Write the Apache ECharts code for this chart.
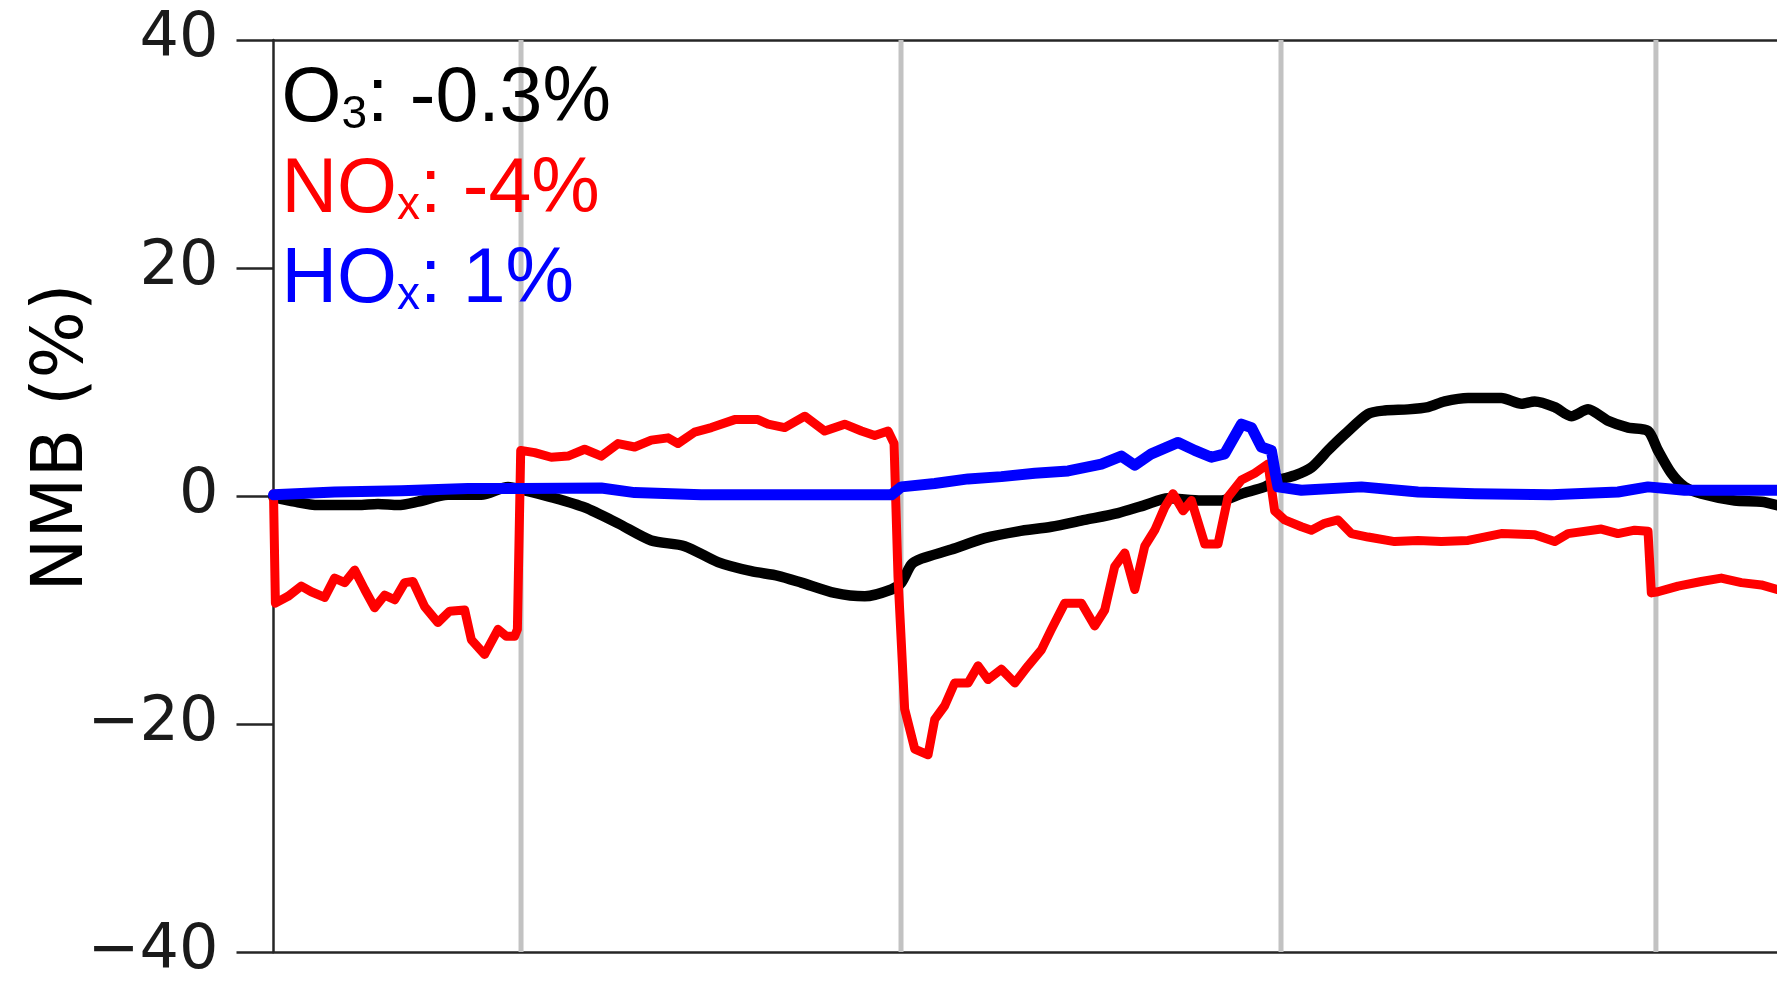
<!DOCTYPE html>
<html>
<head>
<meta charset="utf-8">
<script src="https://cdn.jsdelivr.net/npm/echarts@6/dist/echarts.min.js"></script>
<style>
  html, body { margin: 0; padding: 0; background: #ffffff; }
  #chart { width: 1777px; height: 983px; }
</style>
</head>
<body>
<div id="chart"></div>
<script>
// Elapsed time in hours along the x axis; NMB in percent along the y axis.
const xRange = [0, 95];
const yTicks = [-40, -20, 0, 20, 40];

// Starts of the sampling periods (grey verticals)
const periodBoundaries = [15.64, 39.65, 63.66, 87.35];

// Campaign-mean normalised mean bias per species
const speciesNames = ['O', 'NO', 'HO'];
const speciesSubs = ['3', 'x', 'x'];
const nmbSummary = ['-0.3', '-4', '1'];

// O3 bias time series [hour, NMB %]
const o3Bias = [
  [0, -0.1], [1.34, -0.5], [2.81, -0.8], [5.34, -0.8], [6.6, -0.7], [7.87, -0.8],
  [9.13, -0.5], [11.03, 0.1], [13.13, 0.1], [14.82, 0.8], [15.87, 0.5], [17.55, -0.1],
  [19.66, -1.0], [21.77, -2.4], [23.87, -3.9], [25.98, -4.4], [28.08, -5.8], [30.19, -6.6],
  [31.88, -7.0], [33.36, -7.6], [35.46, -8.5], [37.36, -8.8], [39.04, -8.2], [39.67, -7.6],
  [40.31, -6.0], [40.94, -5.5], [42.83, -4.7], [44.94, -3.7], [47.05, -3.1], [49.15, -2.7],
  [51.26, -2.1], [53.36, -1.5], [55.05, -0.8], [56.52, -0.2], [58.63, -0.4], [59.89, -0.4],
  [61.16, 0.2], [62.63, 0.8], [63.47, 1.4], [64.52, 1.8], [65.58, 2.5], [66.63, 4.0],
  [67.68, 5.4], [69.16, 7.2], [70.21, 7.5], [71.69, 7.6], [72.95, 7.8], [74.0, 8.3],
  [75.48, 8.6], [77.58, 8.6], [78.85, 8.1], [79.69, 8.3], [80.95, 7.8], [82.0, 7.0],
  [83.06, 7.6], [84.32, 6.6], [85.59, 6.0], [86.85, 5.7], [87.48, 4.0], [88.32, 2.0],
  [89.16, 0.8], [90.22, 0.2], [92.32, -0.4], [94.01, -0.5], [95, -0.8]
];

// NOx bias time series [hour, NMB %]
const noxBias = [
  [0, 0.2], [0.12, -9.4], [0.92, -8.8], [1.76, -7.9], [2.39, -8.4], [3.23, -8.9],
  [3.86, -7.2], [4.5, -7.6], [5.13, -6.5], [5.76, -8.2], [6.39, -9.8], [7.02, -8.7],
  [7.66, -9.1], [8.29, -7.6], [8.81, -7.5], [9.55, -9.7], [10.39, -11.1], [11.13, -10.1],
  [12.08, -10.0], [12.5, -12.6], [13.34, -13.9], [14.19, -11.7], [14.71, -12.3], [15.24, -12.3],
  [15.41, -11.7], [15.62, 4.0], [16.5, 3.8], [17.55, 3.4], [18.61, 3.5], [19.66, 4.1],
  [20.71, 3.5], [21.77, 4.6], [22.82, 4.3], [23.87, 4.9], [24.93, 5.1], [25.56, 4.6],
  [26.61, 5.6], [27.67, 6.0], [29.14, 6.7], [30.61, 6.7], [31.25, 6.3], [32.3, 6.0],
  [33.57, 7.0], [34.83, 5.7], [36.09, 6.3], [37.15, 5.7], [37.99, 5.3], [38.83, 5.7],
  [39.21, 4.6], [39.46, -7.1], [39.88, -18.7], [40.52, -22.2], [41.36, -22.7], [41.78, -19.6],
  [42.41, -18.4], [43.04, -16.4], [43.89, -16.4], [44.52, -14.9], [45.15, -16.1], [45.99, -15.2],
  [46.84, -16.4], [47.68, -14.9], [48.52, -13.5], [49.15, -11.7], [50.0, -9.4], [51.05, -9.4],
  [51.89, -11.4], [52.52, -10.0], [53.15, -6.2], [53.79, -5.0], [54.42, -8.2], [55.05, -4.4],
  [55.68, -3.0], [56.31, -1.0], [56.84, 0.2], [57.47, -1.3], [58.0, -0.4], [58.84, -4.2],
  [59.68, -4.2], [60.31, -0.1], [61.16, 1.4], [62.0, 2.0], [62.84, 2.8], [63.26, -1.3],
  [63.89, -2.1], [64.95, -2.7], [65.58, -3.0], [66.42, -2.4], [67.26, -2.1], [68.11, -3.3],
  [69.16, -3.6], [70.84, -4.0], [72.32, -3.9], [73.79, -4.0], [75.48, -3.9], [77.58, -3.3],
  [79.69, -3.4], [80.95, -4.0], [81.8, -3.3], [83.9, -2.9], [84.95, -3.3], [86.01, -3.0],
  [86.85, -3.1], [87.06, -8.5], [87.48, -8.4], [88.75, -7.9], [90.22, -7.5], [91.48, -7.2],
  [92.75, -7.6], [94.01, -7.8], [95, -8.2]
];

// HOx bias time series [hour, NMB %]
const hoxBias = [
  [0, 0.1], [3.86, 0.35], [8.07, 0.45], [12.28, 0.65], [15.66, 0.65], [20.71, 0.7],
  [22.82, 0.3], [27.02, 0.1], [31.88, 0.1], [39.04, 0.1], [39.67, 0.8], [41.78, 1.1],
  [43.89, 1.5], [45.99, 1.7], [48.1, 2.0], [50.21, 2.2], [52.31, 2.8], [53.57, 3.5],
  [54.42, 2.7], [55.47, 3.7], [57.16, 4.7], [58.21, 4.0], [59.26, 3.4], [60.1, 3.7],
  [61.16, 6.3], [61.79, 6.0], [62.42, 4.3], [63.05, 4.0], [63.3, 2.0], [63.47, 0.8],
  [64.95, 0.5], [68.74, 0.8], [72.32, 0.35], [75.9, 0.2], [80.74, 0.1], [84.95, 0.35],
  [86.85, 0.8], [89.16, 0.5], [95, 0.5]
];

const seriesColors = ['#000000', '#ff0000', '#0000ff'];

const tickFont = '"DejaVu Sans", sans-serif';
const annoFont = '"Liberation Sans", Arial, sans-serif';

function formatTick(v) {
  return v < 0 ? '\u2212' + Math.abs(v) : String(v);
}

// Rich-text block with the three summary lines (subscripted species names)
const richKeys = ['k', 'r', 'b'];
const richStyles = {};
richKeys.forEach(function (key, i) {
  richStyles[key] = {
    fontFamily: annoFont, fontSize: 77, lineHeight: 90.5,
    verticalAlign: 'bottom', fill: seriesColors[i], color: seriesColors[i]
  };
  richStyles[key + 's'] = {
    fontFamily: annoFont, fontSize: 46, lineHeight: 61,
    verticalAlign: 'bottom', fill: seriesColors[i], color: seriesColors[i]
  };
});
const summaryText = speciesNames.map(function (name, i) {
  const k = richKeys[i];
  return '{' + k + '|' + name + '}{' + k + 's|' + speciesSubs[i] + '}{' + k + '|: ' + nmbSummary[i] + '%}';
}).join('\n');

const chart = echarts.init(document.getElementById('chart'), null, { renderer: 'canvas' });

const axisColor = '#262626';

function lineSeries(name, data, color, width, z, smooth) {
  return {
    name: name, type: 'line', data: data, showSymbol: false, symbol: 'none',
    smooth: smooth, z: z,
    lineStyle: { color: color, width: width, join: 'round', cap: 'round' }
  };
}

chart.setOption({
  animation: false,
  backgroundColor: '#ffffff',
  grid: { left: 273.5, top: 40, right: 0, bottom: 25, containLabel: false },
  xAxis: [
    {
      type: 'value', min: xRange[0], max: xRange[1], position: 'bottom',
      axisLine: { show: true, onZero: false, lineStyle: { color: axisColor, width: 2.5 } },
      axisTick: { show: false }, axisLabel: { show: false }, splitLine: { show: false }
    },
    {
      type: 'value', min: xRange[0], max: xRange[1], position: 'top',
      axisLine: { show: true, onZero: false, lineStyle: { color: axisColor, width: 2.5 } },
      axisTick: { show: false }, axisLabel: { show: false }, splitLine: { show: false }
    }
  ],
  yAxis: {
    type: 'value',
    min: yTicks[0], max: yTicks[yTicks.length - 1],
    interval: yTicks[1] - yTicks[0],
    axisLine: { show: true, onZero: false, lineStyle: { color: axisColor, width: 2.5 } },
    axisTick: { show: true, inside: false, length: 37, lineStyle: { color: axisColor, width: 2.5 } },
    axisLabel: {
      show: true, margin: 55, formatter: formatTick,
      fontFamily: tickFont, fontSize: 62, color: '#1a1a1a'
    },
    splitLine: { show: false }
  },
  graphic: [
    {
      type: 'text', x: 64, y: 437.5, rotation: Math.PI / 2, silent: true,
      style: {
        text: 'NMB (%)', x: 0, y: 0,
        font: '71px "DejaVu Sans", sans-serif',
        fill: '#000000',
        textAlign: 'center', textVerticalAlign: 'middle',
        align: 'center', verticalAlign: 'middle'
      }
    },
    {
      type: 'text', x: 281.5, y: 48, silent: true, z: 100,
      style: {
        text: summaryText, x: 0, y: 0,
        rich: richStyles,
        textAlign: 'left', textVerticalAlign: 'top',
        align: 'left', verticalAlign: 'top'
      }
    }
  ],
  series: [
    {
      name: 'periods',
      type: 'custom',
      silent: true,
      z: 1,
      data: periodBoundaries.map(function (x) { return [x]; }),
      renderItem: function (params, api) {
        const x = api.value(0);
        const p0 = api.coord([x, yTicks[0]]);
        const p1 = api.coord([x, yTicks[yTicks.length - 1]]);
        return {
          type: 'line',
          shape: { x1: p0[0], y1: p0[1], x2: p1[0], y2: p1[1] },
          style: { stroke: '#c2c2c2', lineWidth: 5 }
        };
      }
    },
    lineSeries('O3', o3Bias, seriesColors[0], 10.5, 2, 0.25),
    lineSeries('NOx', noxBias, seriesColors[1], 9, 3, false),
    lineSeries('HOx', hoxBias, seriesColors[2], 11, 4, false)
  ]
});
</script>
</body>
</html>
